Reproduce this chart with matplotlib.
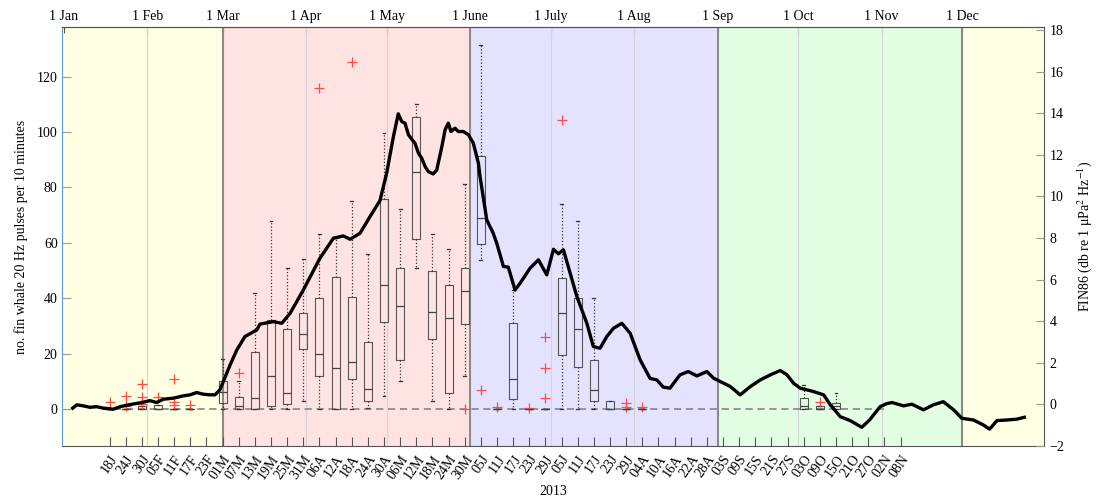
import datetime as dt
import matplotlib
matplotlib.use("Agg")
import matplotlib.pyplot as plt
import numpy as np

plt.rcParams['font.family'] = ['Liberation Serif', 'DejaVu Serif']
plt.rcParams['mathtext.fontset'] = 'stix'
plt.rcParams['font.size'] = 10

# FIN86 index (right axis), day of year 2013 vs dB
fin86_day = [4.3, 5.8, 8.2, 10.7, 13.2, 15.7, 19.4, 21.9, 24.4, 26.8, 29.9, 33.0,
             35.5, 38.0, 41.7, 45.4, 47.9, 50.4, 52.8, 55.3, 57.2, 59.0, 60.3, 62.8,
             65.3, 68.3, 72.7, 73.9, 78.9, 82.0, 85.1, 90.0, 96.2, 101.2, 104.9, 107.4,
             111.1, 114.8, 118.5, 121.0, 123.5, 125.3, 126.6, 127.8, 129.1, 130.3, 131.5,
             132.8, 134.0, 135.3, 136.5, 138.3, 139.6, 141.5, 142.7, 143.9, 144.9, 146.4,
             147.6, 149.5, 151.4, 153.2, 155.1, 155.7, 158.2, 160.6, 161.9, 164.4, 166.2,
             168.7, 170.6, 174.3, 177.4, 180.5, 183.0, 184.8, 186.7, 189.2, 191.7, 195.4,
             197.8, 200.3, 202.8, 205.3, 208.4, 211.5, 215.2, 218.9, 221.4, 223.8, 226.3,
             230.0, 233.1, 236.3, 240.0, 242.5, 245.0, 248.7, 252.4, 256.2, 259.9, 263.6,
             267.3, 269.8, 272.2, 274.7, 279.6, 283.4, 285.9, 289.6, 293.3, 297.6, 300.5,
             302.0, 304.4, 306.9, 308.8, 313.1, 316.2, 320.5, 324.2, 327.9, 331.7, 334.8,
             339.1, 342.8, 345.1, 347.8, 351.5, 355.2, 358.0]
fin86_db = [-0.18, -0.02, -0.07, -0.14, -0.11, -0.18, -0.23, -0.11, -0.04, 0.02, 0.09, 0.18,
            0.09, 0.25, 0.30, 0.41, 0.46, 0.57, 0.49, 0.46, 0.46, 0.70, 1.10, 1.90,
            2.62, 3.26, 3.58, 3.86, 3.98, 3.90, 4.38, 5.50, 7.03, 7.99, 8.10, 7.94,
            8.23, 9.03, 9.80, 11.12, 12.88, 13.97, 13.60, 13.52, 12.96, 12.75, 12.56,
            12.08, 11.84, 11.43, 11.19, 11.08, 11.27, 12.39, 13.20, 13.52, 13.12, 13.28,
            13.12, 13.12, 12.96, 12.56, 11.59, 10.95, 8.87, 8.23, 7.75, 6.63, 6.60,
            5.50, 5.83, 6.55, 6.95, 6.23, 7.46, 7.24, 7.43, 6.31, 5.18, 3.90,
            2.78, 2.70, 3.26, 3.66, 3.90, 3.42, 2.14, 1.25, 1.18, 0.83, 0.78,
            1.42, 1.58, 1.37, 1.58, 1.26, 1.10, 0.86, 0.46, 0.86, 1.18, 1.42,
            1.63, 1.42, 1.02, 0.78, 0.62, 0.46, -0.02, -0.59, -0.78, -1.10, -0.75,
            -0.50, -0.11, 0.04, 0.09, -0.07, 0.01, -0.26, -0.02, 0.13, -0.26, -0.67,
            -0.75, -0.99, -1.19, -0.78, -0.75, -0.71, -0.62]

# pulse counts per 6-day block: box statistics
box_labels = ['18J', '24J', '30J', '05F', '11F', '17F', '23F', '01M', '07M', '13M',
              '19M', '25M', '31M', '06A', '12A', '18A', '24A', '30A', '06M', '12M',
              '18M', '24M', '30M', '05J', '11J', '17J', '23J', '29J', '05J', '11J',
              '17J', '23J', '29J', '04A', '10A', '16A', '22A', '28A', '03S', '09S',
              '15S', '21S', '27S', '03O', '09O', '15O', '21O', '27O', '02N', '08N']
q1 = [0, 0, 0, 0, 0, 0, 0, 2, 0, 0, 1.2, 1.7, 21.7, 11.7, 0, 10.7, 2.9, 31.3, 17.7, 61.3,
      25.4, 5.7, 30.8, 59.7, 0, 3.5, 0, 0, 19.5, 15.3, 2.9, 0, 0, 0, 0, 0, 0, 0, 0, 0,
      0, 0, 0, 0, 0, 0, 0, 0, 0, 0]
med = [0, 0, 0, 0, 0, 0, 0, 6, 1, 3.9, 11.7, 5.7, 27, 19.9, 14.7, 16.9, 7.2, 44.8, 37, 85.4,
       34.9, 33, 42.4, 69.1, 0, 10.7, 0, 0, 34.8, 28.8, 6.9, 0, 0, 0, 0, 0, 0, 0, 0, 0,
       0, 0, 0, 1, 0, 1, 0, 0, 0, 0]
q3 = [0, 0, 1, 1.5, 0, 0, 0, 10, 4.4, 20.4, 32.2, 28.8, 34.8, 39.9, 47.8, 40.5, 24.3, 75.8, 51, 105.3,
      49.9, 44.6, 51, 91.4, 0, 31, 0, 0, 47.2, 40, 17.7, 2.9, 0, 0, 0, 0, 0, 0, 0, 0,
      0, 0, 0, 4.1, 1, 2.3, 0, 0, 0, 0]
whis_lo = [0, 0, 0, 0, 0, 0, 0, 0, 0, 0, 0, 0, 3, 0, 0, 0, 0.5, 4.8, 10.1, 51,
           3, 0, 11.7, 53.8, 0, 0, 0, 0, 0, 0, 0, 0, 0, 0, 0, 0, 0, 0, 0, 0,
           0, 0, 0, 0, 0, 0, 0, 0, 0, 0]
whis_hi = [0, 0, 1, 1.5, 0, 0, 0, 18, 10, 42, 68, 50.8, 54, 63.1, 61.7, 75.2, 55.9, 99.6, 72.2, 110.2,
           63.1, 57.9, 81.2, 131.4, 0, 43, 0, 0, 74.1, 68, 40, 2.9, 0, 0, 0, 0, 0, 0, 0, 0,
           0, 0, 0, 8.7, 1, 5.7, 0, 0, 0, 0]
outliers = {0: [2.5], 1: [4.8, 1.0], 2: [8.9, 4.2, 1.8], 3: [4.4], 4: [10.8, 2.6, 1.4],
            5: [1.4], 8: [13], 13: [116], 15: [125.4], 22: [0], 23: [6.9], 24: [0.8],
            26: [0.5], 27: [25.9, 14.7, 3.9], 28: [104.2], 32: [2.3, 0.8], 33: [0.8],
            44: [2.6]}

months = ['1 Jan', '1 Feb', '1 Mar', '1 Apr', '1 May', '1 June', '1 July', '1 Aug',
          '1 Sep', '1 Oct', '1 Nov', '1 Dec']

# day-of-year helpers
jan1 = dt.date(2013, 1, 1)
month_day = [(dt.date(2013, m, 1) - jan1).days + 1 for m in range(1, 13)]
box_day = [(dt.date(2013, 1, 18) - jan1).days + 1 + 6 * i for i in range(len(box_labels))]

fig = plt.figure(figsize=(10.97, 4.98), dpi=100)
ax = fig.add_axes([0.05697, 0.10442, 0.89517, 0.84076])

# seasons
season_edges = [0.5, month_day[2], month_day[5], month_day[8], month_day[11], 365.5]
season_cols = ['#ffffe3', '#ffe3e3', '#e3e3ff', '#e3ffe3', '#ffffe3']
for a, b, c in zip(season_edges[:-1], season_edges[1:], season_cols):
    ax.axvspan(a, b, color=c, lw=0, zorder=0)
for i, d in enumerate(month_day[1:], start=1):
    if i in (2, 5, 8, 11):
        ax.axvline(d, color='#8a8a8a', lw=1.5, zorder=1)
    else:
        ax.axvline(d, color='#d4d4d4', lw=0.8, zorder=1)

ax.hlines(0, box_day[0] - 3, box_day[-1] - 6, colors='#8c8c8c', lw=1.3,
          linestyles=(0, (4, 2.6)), zorder=2)

# skip blocks with no detections at all, the zero line covers them
stats, pos = [], []
for i in range(len(box_labels)):
    fl = outliers.get(i, [])
    if whis_hi[i] == 0 and not fl:
        continue
    stats.append(dict(q1=q1[i], med=med[i], q3=q3[i], whislo=whis_lo[i],
                      whishi=whis_hi[i], fliers=fl))
    pos.append(box_day[i])
ax.bxp(stats, positions=pos, widths=3.0, capwidths=1.1, manage_ticks=False,
       boxprops=dict(color='#555555', lw=0.8),
       medianprops=dict(color='#444444', lw=0.9),
       whiskerprops=dict(color='#333333', lw=0.9, linestyle=':'),
       capprops=dict(color='#333333', lw=0.9),
       flierprops=dict(marker='+', markeredgecolor='#ff4a4a', markersize=7, mew=0.9),
       zorder=3)

ax.set_xlim(0.5, 365.5)
ax.set_ylim(-13.4, 137.8)
ax.set_yticks(np.arange(0, 121, 20))
ax.set_xticks(box_day)
ax.set_xticklabels(box_labels, rotation=55, ha='right', va='top', rotation_mode='anchor')
ax.tick_params(axis='x', direction='in', length=6.5, color='#555555', pad=5)
ax.tick_params(axis='y', direction='in', length=6.5, color='#999999')
ax.set_ylabel('no. fin whale 20 Hz pulses per 10 minutes', labelpad=6)
ax.set_xlabel('2013', labelpad=2)
ax.spines['left'].set_color('#5b9bd5')
for s in ('top', 'bottom', 'right'):
    ax.spines[s].set_color('#555555')

top = ax.secondary_xaxis('top')
top.set_xticks(month_day)
top.set_xticklabels(months)
top.tick_params(direction='in', length=4, color='#555555', pad=3)
top.spines['top'].set_color('#555555')

ax2 = ax.twinx()
ax2.plot(fin86_day, fin86_db, color='black', lw=2.4, zorder=5)
ax2.set_ylim(-2, 18.13)
ax2.set_yticks(np.arange(-2, 19, 2))
ax2.set_yticklabels([str(v).replace('-', '\u2212') for v in range(-2, 19, 2)])
ax2.tick_params(axis='y', direction='in', length=6, color='#999999')
ax2.set_ylabel(r'FIN86 (db re 1 μPa$^2$ Hz$^{-1}$)', labelpad=8)
for s in ax2.spines.values():
    s.set_visible(False)

fig.savefig('out.png', dpi=100)
